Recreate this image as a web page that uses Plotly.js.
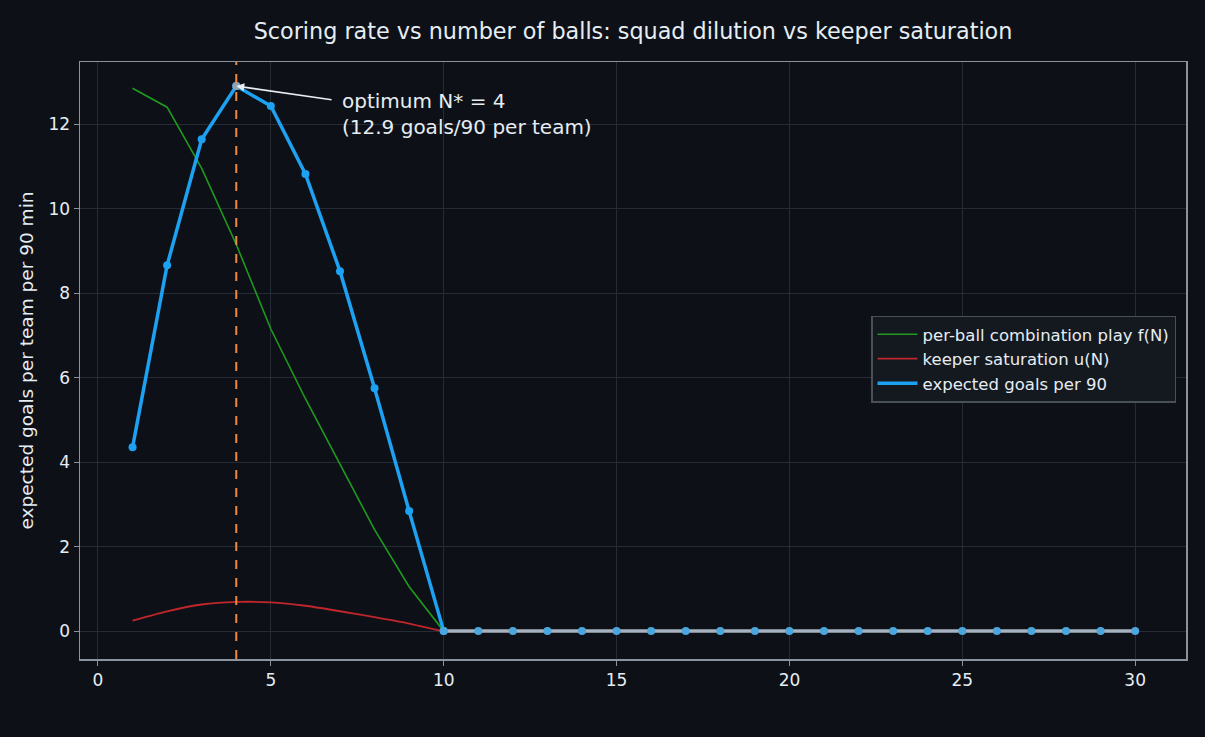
<!DOCTYPE html>
<html>
<head>
<meta charset="utf-8">
<script src="https://cdn.plot.ly/plotly-3.0.1.min.js"></script>
<style>
  html, body { margin: 0; padding: 0; background: #0d1117; }
  #chart { width: 1205px; height: 737px; }
</style>
</head>
<body>
<div id="chart"></div>
<script>
// Number of balls on the pitch
const nBalls = Array.from({length: 30}, (_, i) => i + 1);

// Per-ball combination play f(N)
const comboPlay = [12.85, 12.4, 10.95, 9.15, 7.15, 5.5, 3.95, 2.4, 1.05, 0,
                   0, 0, 0, 0, 0, 0, 0, 0, 0, 0, 0, 0, 0, 0, 0, 0, 0, 0, 0, 0];

// Keeper saturation u(N)
const keeperSat = [0.25, 0.47, 0.63, 0.69, 0.68, 0.6, 0.47, 0.33, 0.18, 0,
                   0, 0, 0, 0, 0, 0, 0, 0, 0, 0, 0, 0, 0, 0, 0, 0, 0, 0, 0, 0];

// Expected goals per 90 per team
const expGoals = [4.35, 8.66, 11.64, 12.9, 12.43, 10.82, 8.52, 5.75, 2.84, 0,
                  0, 0, 0, 0, 0, 0, 0, 0, 0, 0, 0, 0, 0, 0, 0, 0, 0, 0, 0, 0];

const optimumN = 4;
const optimumGoals = 12.9;

const fg = '#e6edf3';
const frame = '#8b949e';
const grid = '#262c35';
const blue = '#1da1f2';

// Flat stretch where scoring has collapsed to zero
const zeroStart = expGoals.findIndex(v => v === 0);
const riseX = nBalls.slice(0, zeroStart + 1);
const riseY = expGoals.slice(0, zeroStart + 1);
const flatX = nBalls.slice(zeroStart);
const flatY = expGoals.slice(zeroStart);

const traces = [
  {
    x: nBalls, y: comboPlay, type: 'scatter', mode: 'lines',
    name: 'per-ball combination play f(N)',
    line: {color: '#1f9a1f', width: 1.6}
  },
  {
    x: nBalls, y: keeperSat, type: 'scatter', mode: 'lines',
    name: 'keeper saturation u(N)',
    line: {color: '#c0262b', width: 1.8, shape: 'spline', smoothing: 0.6}
  },
  {
    x: riseX, y: riseY, type: 'scatter', mode: 'lines',
    name: 'expected goals per 90',
    line: {color: blue, width: 3.5}
  },
  {
    x: flatX, y: flatY, type: 'scatter', mode: 'lines',
    showlegend: false, hoverinfo: 'skip',
    line: {color: '#a6b2bf', width: 3.5}
  },
  {
    x: riseX, y: riseY, type: 'scatter', mode: 'markers',
    showlegend: false, hoverinfo: 'skip',
    marker: {color: blue, size: 8}
  },
  {
    x: flatX, y: flatY, type: 'scatter', mode: 'markers',
    showlegend: false, hoverinfo: 'skip',
    marker: {color: '#4ba6dd', size: 8}
  },
  {
    x: [optimumN], y: [optimumGoals], type: 'scatter', mode: 'markers',
    showlegend: false, hoverinfo: 'skip',
    marker: {color: '#8fa3b5', size: 8}
  }
];

const layout = {
  width: 1205, height: 737,
  paper_bgcolor: '#0d1117',
  plot_bgcolor: '#0d1117',
  font: {family: 'DejaVu Sans, sans-serif', color: fg, size: 17},
  margin: {l: 80, r: 19, t: 62, b: 78},
  title: {
    text: 'Scoring rate vs number of balls: squad dilution vs keeper saturation',
    font: {size: 22.3, color: fg},
    xref: 'paper', x: 0.5, xanchor: 'center', y: 0.958, yanchor: 'middle'
  },
  xaxis: {
    range: [-0.52, 31.47],
    tickvals: [0, 5, 10, 15, 20, 25, 30],
    showgrid: true, gridcolor: grid, gridwidth: 1,
    zeroline: false,
    showline: true, linecolor: frame, linewidth: 1.5, mirror: true,
    ticks: 'outside', ticklen: 5, tickcolor: frame,
    tickfont: {size: 17, color: fg}
  },
  yaxis: {
    range: [-0.66, 13.47],
    tickvals: [0, 2, 4, 6, 8, 10, 12],
    showgrid: true, gridcolor: grid, gridwidth: 1,
    zeroline: false,
    showline: true, linecolor: frame, linewidth: 1.5, mirror: true,
    ticks: 'outside', ticklen: 5, tickcolor: frame,
    tickfont: {size: 17, color: fg},
    title: {text: 'expected goals per team per 90 min', font: {size: 18.5, color: fg}, standoff: 10}
  },
  legend: {
    x: 0.991, xanchor: 'right', y: 0.5025, yanchor: 'middle',
    bgcolor: '#141920', bordercolor: '#4a5058', borderwidth: 1.5,
    font: {size: 16.5, color: fg},
    itemwidth: 40,
    tracegroupgap: 0
  },
  shapes: [
    {
      type: 'line', xref: 'x', yref: 'paper',
      x0: optimumN, x1: optimumN, y0: 0, y1: 1,
      line: {color: '#f0883e', width: 2, dash: 'dash'}
    }
  ],
  annotations: [
    {
      x: optimumN, y: optimumGoals, xref: 'x', yref: 'y',
      ax: 6.8, ay: 12.57, axref: 'x', ayref: 'y',
      text: '', showarrow: true,
      arrowhead: 2, arrowsize: 1, arrowwidth: 1.6, arrowcolor: '#e6edf3'
    },
    {
      x: 7.0, y: 12.25, xref: 'x', yref: 'y',
      xanchor: 'left', yanchor: 'middle', align: 'left',
      text: 'optimum N* = ' + optimumN + '<br>(' + optimumGoals.toFixed(1) + ' goals/90 per team)',
      showarrow: false,
      font: {size: 20, color: fg}
    }
  ]
};

Plotly.newPlot('chart', traces, layout, {displayModeBar: false, staticPlot: true});
</script>
</body>
</html>
